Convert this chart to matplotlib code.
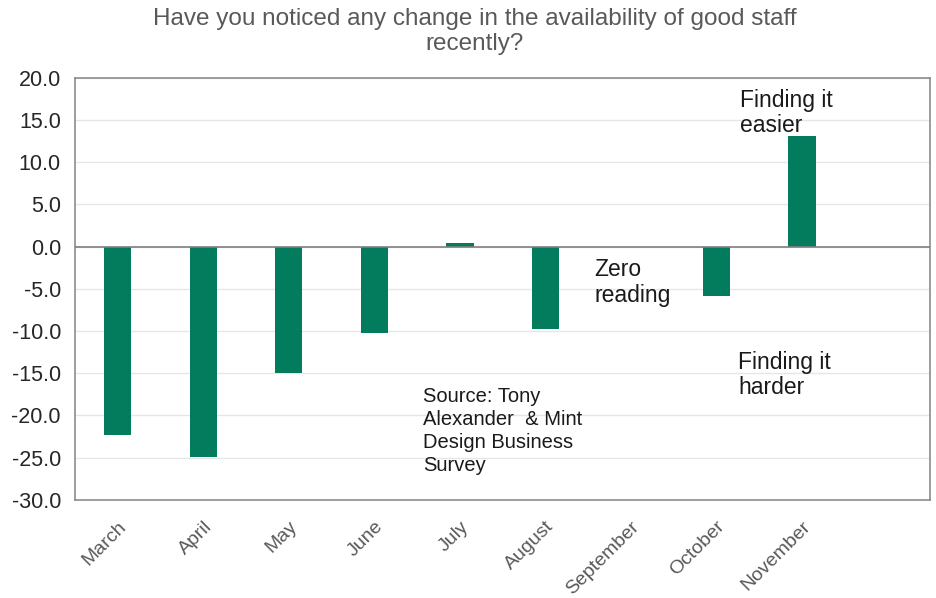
import matplotlib.pyplot as plt
import numpy as np

plt.rcParams['font.family'] = ['Liberation Sans', 'DejaVu Sans']

months = ['March', 'April', 'May', 'June', 'July', 'August',
          'September', 'October', 'November']
net_change = [-22.3, -24.9, -15.0, -10.2, 0.4, -9.7, 0.0, -5.9, 13.1]
y_ticks = np.arange(-30, 21, 5)

fig = plt.figure(figsize=(9.36, 5.98), dpi=100)
ax = fig.add_axes([0.080, 0.164, 0.914, 0.706])

x = np.arange(len(months))
ax.bar(x, net_change, width=0.32, color='#037b5d', zorder=3)

ax.set_xlim(-0.5, len(months) + 0.5)
ax.set_ylim(-30, 20)
ax.set_yticks(y_ticks)
ax.set_yticklabels([f'{v:.1f}' for v in y_ticks], fontsize=15.5, color='#262626')
ax.set_xticks(x)
ax.set_xticklabels(months, rotation=45, ha='right', rotation_mode='anchor',
                   fontsize=14, color='#595959')
ax.tick_params(length=0, pad=10)
ax.tick_params(axis='x', pad=13)

ax.grid(axis='y', color='#e6e6e6', linewidth=1, zorder=0)
ax.axhline(0, color='#7f7f7f', linewidth=1.2, zorder=4)
for side in ax.spines.values():
    side.set_color('#8c8c8c')
    side.set_linewidth(1.2)

ax.set_title('Have you noticed any change in the availability of good staff\nrecently?',
             x=0.467, fontsize=17.5, color='#595959', pad=20, linespacing=1.15)

note = dict(fontsize=16.5, color='#1a1a1a', linespacing=1.12, va='top', ha='left')
ax.text(7.27, 18.7, 'Finding it\neasier', **note)
ax.text(5.57, -1.4, 'Zero\nreading', **note)
ax.text(7.25, -12.4, 'Finding it\nharder', **note)
ax.text(3.57, -16.6, 'Source: Tony\nAlexander  & Mint\nDesign Business\nSurvey',
        fontsize=14.5, color='#1a1a1a', linespacing=1.28, va='top', ha='left')

fig.savefig('out.png', dpi=100)
